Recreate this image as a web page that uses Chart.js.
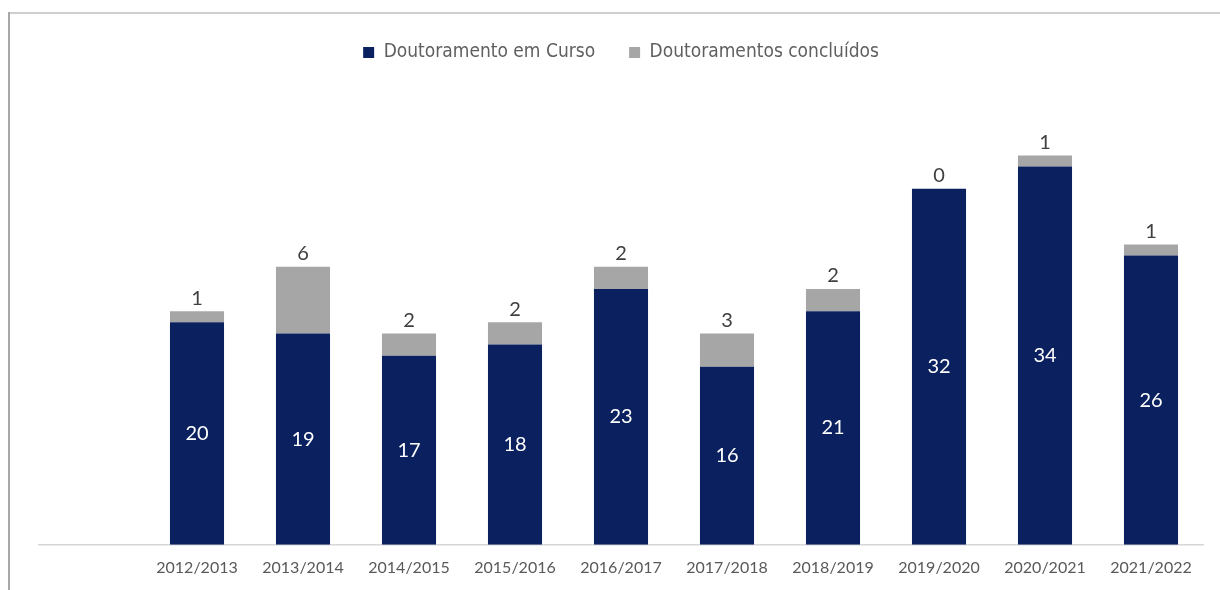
<!DOCTYPE html>
<html>
<head>
<meta charset="utf-8">
<script src="https://cdn.jsdelivr.net/npm/chart.js@4"></script>
<style>
  body { margin: 0; background: #fff; }
  #wrap { position: relative; width: 1220px; height: 590px; }
  #frameTop { position: absolute; left: 8px; top: 12px; width: 1212px; height: 2px; background: #cfcfcf; }
  #frameLeft { position: absolute; left: 8px; top: 12px; width: 2px; height: 578px; background: #a8a8a8; }
  canvas { position: absolute; left: 0; top: 0; }
</style>
</head>
<body>
<div id="wrap">
  <canvas id="chart" width="1220" height="590"></canvas>
  <div id="frameTop"></div>
  <div id="frameLeft"></div>
</div>
<script>
const years = ['2012/2013', '2013/2014', '2014/2015', '2015/2016', '2016/2017',
               '2017/2018', '2018/2019', '2019/2020', '2020/2021', '2021/2022'];
const emCurso = [20, 19, 17, 18, 23, 16, 21, 32, 34, 26];
const concluidos = [1, 6, 2, 2, 2, 3, 2, 0, 1, 1];

// axis line runs further left than the bars, like in the original
const axisLine = {
    id: 'axisLine',
    beforeDatasetsDraw(chart) {
        const { ctx, chartArea } = chart;
        ctx.save();
        ctx.strokeStyle = '#d6d6d6';
        ctx.lineWidth = 1.5;
        ctx.beginPath();
        ctx.moveTo(38, chartArea.bottom);
        ctx.lineTo(chartArea.right, chartArea.bottom);
        ctx.stroke();
        ctx.restore();
    }
};

// value labels: inside for blue, above the stack for grey
const valueLabels = {
    id: 'valueLabels',
    afterDatasetsDraw(chart) {
        const ctx = chart.ctx;
        ctx.save();
        ctx.textAlign = 'center';
        ctx.textBaseline = 'middle';
        ctx.font = '20px Lato, "Open Sans", sans-serif';
        chart.getDatasetMeta(0).data.forEach((bar, i) => {
            ctx.fillStyle = '#ffffff';
            ctx.fillText(emCurso[i], bar.x, (bar.y + bar.base) / 2);
        });
        chart.getDatasetMeta(1).data.forEach((bar, i) => {
            ctx.fillStyle = '#404040';
            ctx.fillText(concluidos[i], bar.x, bar.y - 13);
        });
        ctx.restore();
    }
};

new Chart(document.getElementById('chart'), {
    type: 'bar',
    data: {
        labels: years,
        datasets: [
            { label: 'Doutoramento em Curso', data: emCurso, backgroundColor: '#0b215f',
              barPercentage: 0.51, categoryPercentage: 1 },
            { label: 'Doutoramentos concluídos', data: concluidos, backgroundColor: '#a6a6a6',
              barPercentage: 0.51, categoryPercentage: 1 }
        ]
    },
    options: {
        responsive: false,
        animation: false,
        layout: { padding: { left: 38, right: 16, top: 9, bottom: 8 } },
        plugins: {
            tooltip: { enabled: false },
            legend: {
                position: 'top',
                labels: {
                    boxWidth: 11, boxHeight: 11, padding: 34,
                    color: '#5f5f5f',
                    font: { family: '"Liberation Sans Narrow", "DejaVu Sans Condensed", sans-serif', size: 19 }
                }
            }
        },
        scales: {
            x: {
                stacked: true,
                grid: { display: false },
                border: { display: false },
                ticks: { color: '#595959', font: { family: 'Lato, "Open Sans", sans-serif', size: 16 }, padding: 5 }
            },
            y: {
                stacked: true,
                min: 0, max: 42.5,
                grid: { display: false },
                border: { display: false },
                ticks: { display: false },
                afterFit(scale) { scale.width = 106; }
            }
        }
    },
    plugins: [axisLine, valueLabels]
});
</script>
</body>
</html>
